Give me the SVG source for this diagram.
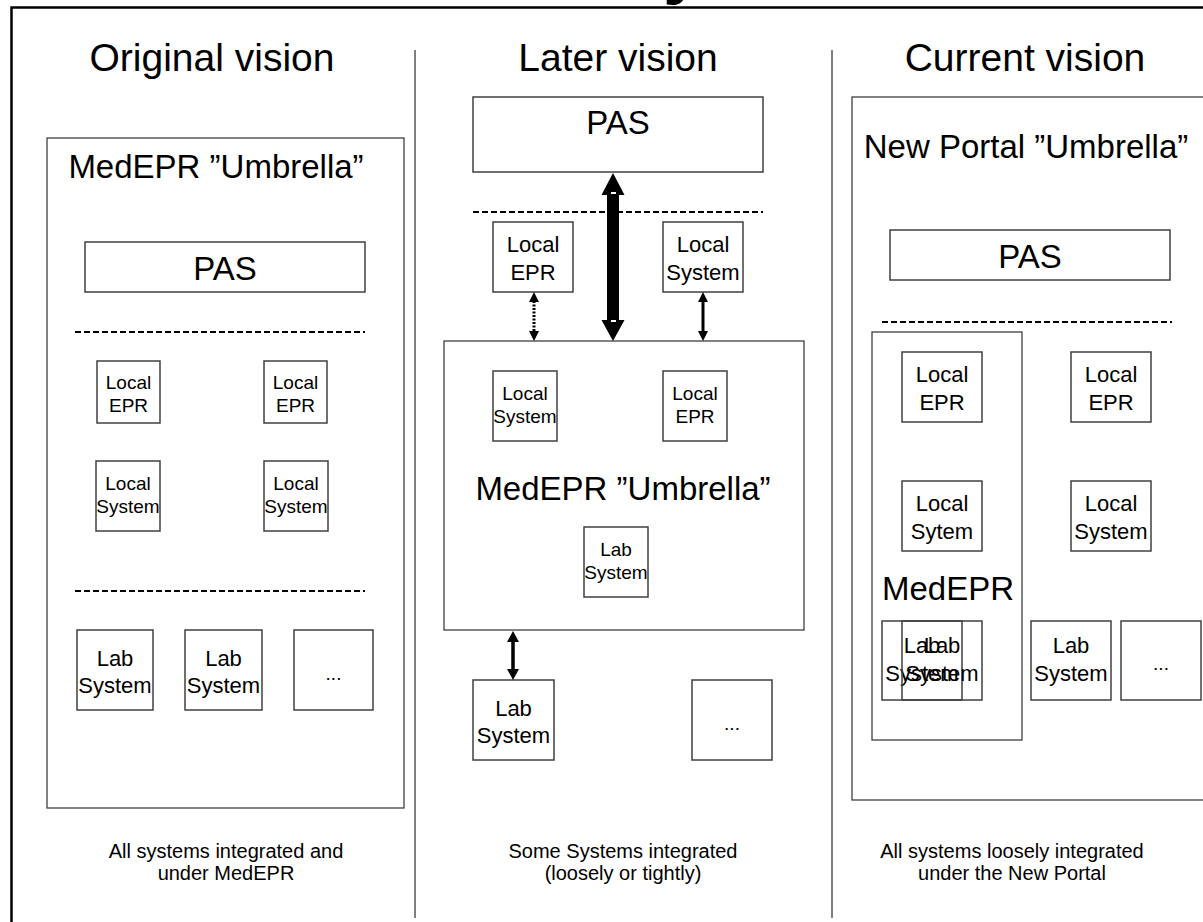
<svg xmlns="http://www.w3.org/2000/svg" width="1203" height="922" viewBox="0 0 1203 922">
<style>
.t{font-family:"Liberation Sans",Arial,sans-serif;fill:#000;text-anchor:middle}
.box{fill:#fff;stroke:#404040;stroke-width:1.5}
.obox{fill:none;stroke:#404040;stroke-width:1.5}
.frame{fill:none;stroke:#404040;stroke-width:1.3}
.dash{stroke:#000;stroke-width:1.8;stroke-dasharray:6 3;fill:none}
.div{stroke:#000;stroke-width:1}
.title{font-size:39px}
.umb{font-size:33px}
.pas{font-size:33px}
.s19{font-size:19px}
.s22{font-size:22px}
.note{font-size:20px}
</style>
<rect width="1203" height="922" fill="#fff"/>
<text x="663" y="-10" font-family="Liberation Sans,Arial,sans-serif" font-weight="bold" font-size="72">y</text>
<path d="M11.5,925 V7.5 H1210" fill="none" stroke="#000" stroke-width="2.5"/>
<line class="div" x1="415" y1="50" x2="415" y2="918"/>
<line class="div" x1="832" y1="50" x2="832" y2="918"/>

<g id="col-original">
<text class="t title" x="212" y="71">Original vision</text>
<rect class="frame" x="47" y="138" width="357" height="670"/>
<text class="t umb" x="216" y="178">MedEPR ”Umbrella”</text>
<g id="o-pas"><rect class="box" x="85" y="242" width="280" height="50"/><text class="t pas" x="225" y="280">PAS</text></g>
<line class="dash" x1="75" y1="332" x2="365" y2="332"/>
<g id="o-lepr1"><rect class="box" x="97" y="361" width="63" height="62"/><text class="t s19" x="128.5" y="389">Local</text><text class="t s19" x="128.5" y="412">EPR</text></g>
<g id="o-lepr2"><rect class="box" x="264" y="361" width="63" height="62"/><text class="t s19" x="295.5" y="389">Local</text><text class="t s19" x="295.5" y="412">EPR</text></g>
<g id="o-lsys1"><rect class="box" x="96" y="461" width="64" height="70"/><text class="t s19" x="128" y="490">Local</text><text class="t s19" x="128" y="513">System</text></g>
<g id="o-lsys2"><rect class="box" x="264" y="461" width="64" height="70"/><text class="t s19" x="296" y="490">Local</text><text class="t s19" x="296" y="513">System</text></g>
<line class="dash" x1="75" y1="591" x2="365" y2="591"/>
<g id="o-lab1"><rect class="box" x="77" y="630" width="76" height="80"/><text class="t s22" x="115" y="666">Lab</text><text class="t s22" x="115" y="693">System</text></g>
<g id="o-lab2"><rect class="box" x="185" y="630" width="77" height="80"/><text class="t s22" x="223.5" y="666">Lab</text><text class="t s22" x="223.5" y="693">System</text></g>
<g id="o-more"><rect class="box" x="294" y="630" width="79" height="80"/><text class="t s19" x="333.5" y="680">...</text></g>
<text class="t note" x="226" y="858">All systems integrated and</text>
<text class="t note" x="226" y="880">under MedEPR</text>
</g>

<g id="col-later">
<text class="t title" x="618" y="71">Later vision</text>
<g id="l-pas"><rect class="box" x="473" y="97" width="290" height="75"/><text class="t pas" x="618" y="134">PAS</text></g>
<line class="dash" x1="473" y1="212" x2="763" y2="212"/>
<g id="l-lepr"><rect class="box" x="493" y="222" width="80" height="70"/><text class="t s22" x="533" y="252">Local</text><text class="t s22" x="533" y="280">EPR</text></g>
<g id="l-lsys"><rect class="box" x="663" y="222" width="80" height="70"/><text class="t s22" x="703" y="252">Local</text><text class="t s22" x="703" y="280">System</text></g>
<g id="l-umbrella"><rect class="frame" x="444" y="341" width="360" height="289"/><text class="t umb" x="623" y="500">MedEPR ”Umbrella”</text></g>
<g id="l-in-lsys"><rect class="box" x="493" y="371" width="64" height="70"/><text class="t s19" x="525" y="400">Local</text><text class="t s19" x="525" y="423">System</text></g>
<g id="l-in-lepr"><rect class="box" x="663" y="371" width="64" height="70"/><text class="t s19" x="695" y="400">Local</text><text class="t s19" x="695" y="423">EPR</text></g>
<g id="l-in-lab"><rect class="box" x="584" y="527" width="64" height="70"/><text class="t s19" x="616" y="556">Lab</text><text class="t s19" x="616" y="579">System</text></g>
<g id="l-lab"><rect class="box" x="473" y="680" width="81" height="80"/><text class="t s22" x="513.5" y="716">Lab</text><text class="t s22" x="513.5" y="743">System</text></g>
<g id="l-more"><rect class="box" x="692" y="680" width="80" height="80"/><text class="t s19" x="732" y="730">...</text></g>
<text class="t note" x="623" y="858">Some Systems integrated</text>
<text class="t note" x="623" y="880">(loosely or tightly)</text>
</g>

<g id="col-current">
<text class="t title" x="1025" y="71">Current vision</text>
<rect class="frame" x="852" y="97" width="352" height="703"/>
<text class="t umb" x="1026" y="158">New Portal ”Umbrella”</text>
<g id="c-pas"><rect class="box" x="890" y="230" width="280" height="50"/><text class="t pas" x="1030" y="268">PAS</text></g>
<line class="dash" x1="882" y1="322" x2="1172" y2="322"/>
<g id="c-medepr"><rect class="frame" x="872" y="332" width="150" height="408"/><text class="t" x="948" y="600" font-size="33">MedEPR</text></g>
<g id="c-lepr1"><rect class="box" x="902" y="352" width="80" height="70"/><text class="t s22" x="942" y="382">Local</text><text class="t s22" x="942" y="410">EPR</text></g>
<g id="c-lepr2"><rect class="box" x="1071" y="352" width="80" height="70"/><text class="t s22" x="1111" y="382">Local</text><text class="t s22" x="1111" y="410">EPR</text></g>
<g id="c-lsys1"><rect class="box" x="902" y="481" width="80" height="70"/><text class="t s22" x="942" y="511">Local</text><text class="t s22" x="942" y="539">Sytem</text></g>
<g id="c-lsys2"><rect class="box" x="1071" y="481" width="80" height="70"/><text class="t s22" x="1111" y="511">Local</text><text class="t s22" x="1111" y="539">System</text></g>
<g id="c-lab1"><rect class="obox" x="882" y="621" width="80" height="79"/><text class="t s22" x="922" y="653">Lab</text><text class="t s22" x="922" y="681">System</text></g>
<g id="c-lab2"><rect class="obox" x="902" y="621" width="80" height="79"/><text class="t s22" x="942" y="653">Lab</text><text class="t s22" x="942" y="681">System</text></g>
<g id="c-lab3"><rect class="box" x="1031" y="621" width="80" height="79"/><text class="t s22" x="1071" y="653">Lab</text><text class="t s22" x="1071" y="681">System</text></g>
<g id="c-more"><rect class="box" x="1121" y="621" width="80" height="79"/><text class="t s19" x="1161" y="670">...</text></g>
<text class="t note" x="1012" y="858">All systems loosely integrated</text>
<text class="t note" x="1012" y="880">under the New Portal</text>
</g>

<g id="connectors">
<path d="M613,173 L624.5,195 L619,195 L619,320 L624.5,320 L613,341 L601.5,320 L607,320 L607,195 L601.5,195 Z" fill="#000"/>
<rect x="611" y="192" width="5" height="2" fill="#fff"/>
<rect x="611" y="320" width="5" height="2" fill="#fff"/>
<line x1="534" y1="301" x2="534" y2="333" stroke="#000" stroke-width="3" stroke-dasharray="2 1.5"/>
<path d="M534,292 L539,302 L529,302 Z M534,341 L539,331 L529,331 Z" fill="#000"/>
<line x1="703" y1="301" x2="703" y2="333" stroke="#000" stroke-width="3"/>
<path d="M703,292 L708,302 L698,302 Z M703,341 L708,331 L698,331 Z" fill="#000"/>
<line x1="513" y1="640" x2="513" y2="671" stroke="#000" stroke-width="3.5"/>
<path d="M513,631 L519,642 L507,642 Z M513,680 L519,669 L507,669 Z" fill="#000"/>
</g>
</svg>
